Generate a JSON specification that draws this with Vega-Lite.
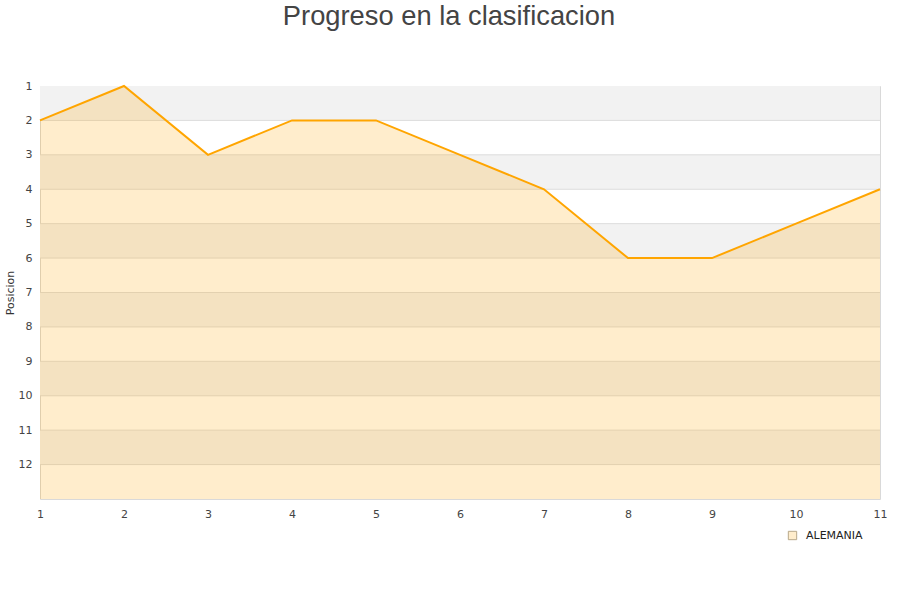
{
  "$schema": "https://vega.github.io/schema/vega-lite/v6.json",
  "width": 840,
  "height": 413,
  "autosize": {"type": "none"},
  "padding": {"left": 40, "top": 86, "right": 20, "bottom": 101},
  "background": "white",
  "title": {
    "text": "Progreso en la clasificacion",
    "font": "Liberation Sans",
    "fontSize": 27.3,
    "fontWeight": "normal",
    "color": "#444444",
    "anchor": "middle",
    "dx": -11,
    "offset": 50
  },
  "config": {
    "view": {"stroke": "#d9d9d9", "strokeWidth": 1},
    "axis": {
      "labelFont": "DejaVu Sans",
      "labelFontSize": 11,
      "labelColor": "#444444",
      "titleFont": "DejaVu Sans",
      "titleFontSize": 11,
      "titleFontWeight": "normal",
      "titleColor": "#333333",
      "domain": false,
      "ticks": false,
      "grid": false,
      "labelOverlap": false
    }
  },
  "datasets": {
    "bands": [
      {"b0": 1, "b1": 2}, {"b0": 3, "b1": 4}, {"b0": 5, "b1": 6},
      {"b0": 7, "b1": 8}, {"b0": 9, "b1": 10}, {"b0": 11, "b1": 12}
    ],
    "grid": [
      {"g": 2}, {"g": 3}, {"g": 4}, {"g": 5}, {"g": 6}, {"g": 7},
      {"g": 8}, {"g": 9}, {"g": 10}, {"g": 11}, {"g": 12}
    ],
    "prog": [
      {"jornada": 1, "pos": 2, "equipo": "ALEMANIA"},
      {"jornada": 2, "pos": 1, "equipo": "ALEMANIA"},
      {"jornada": 3, "pos": 3, "equipo": "ALEMANIA"},
      {"jornada": 4, "pos": 2, "equipo": "ALEMANIA"},
      {"jornada": 5, "pos": 2, "equipo": "ALEMANIA"},
      {"jornada": 6, "pos": 3, "equipo": "ALEMANIA"},
      {"jornada": 7, "pos": 4, "equipo": "ALEMANIA"},
      {"jornada": 8, "pos": 6, "equipo": "ALEMANIA"},
      {"jornada": 9, "pos": 6, "equipo": "ALEMANIA"},
      {"jornada": 10, "pos": 5, "equipo": "ALEMANIA"},
      {"jornada": 11, "pos": 4, "equipo": "ALEMANIA"}
    ]
  },
  "layer": [
    {
      "data": {"name": "bands"},
      "mark": {"type": "rect", "color": "#f2f2f2"},
      "encoding": {
        "y": {"field": "b0", "type": "quantitative", "scale": {"domain": [1, 13], "reverse": true, "zero": false, "nice": false},
              "axis": {"values": [1,2,3,4,5,6,7,8,9,10,11,12], "tickCount": 20, "format": "d", "title": "Posicion", "labelPadding": 8, "titlePadding": 3, "labelOverlap": false, "labelBound": false, "labelFlush": false}},
        "y2": {"field": "b1"}
      }
    },
    {
      "data": {"name": "grid"},
      "mark": {"type": "rule", "color": "#dcdcdc", "strokeWidth": 1},
      "encoding": {
        "y": {"field": "g", "type": "quantitative"}
      }
    },
    {
      "data": {"name": "prog"},
      "mark": {"type": "area", "color": "#ffa500", "fillOpacity": 0.2},
      "encoding": {
        "x": {"field": "jornada", "type": "quantitative", "scale": {"domain": [1, 11], "nice": false, "zero": false},
              "axis": {"values": [1,2,3,4,5,6,7,8,9,10,11], "tickCount": 20, "format": "d", "title": null, "labelPadding": 9, "labelFlush": false, "labelOverlap": false}},
        "y": {"field": "pos", "type": "quantitative"},
        "y2": {"datum": 13}
      }
    },
    {
      "data": {"name": "prog"},
      "mark": {"type": "line", "color": "#ffa500", "strokeWidth": 2},
      "encoding": {
        "x": {"field": "jornada", "type": "quantitative"},
        "y": {"field": "pos", "type": "quantitative"}
      }
    },
    {
      "data": {"name": "prog"},
      "mark": {"type": "point", "filled": true, "opacity": 0},
      "encoding": {
        "x": {"field": "jornada", "type": "quantitative"},
        "y": {"field": "pos", "type": "quantitative"},
        "color": {
          "field": "equipo", "type": "nominal",
          "scale": {"range": ["#ffedcc"]},
          "legend": {
            "title": null,
            "orient": "none",
            "legendX": 747,
            "legendY": 444,
            "padding": 0,
            "symbolType": "square",
            "symbolSize": 70,
            "symbolOpacity": 1,
            "symbolStrokeColor": "#b8a88a",
            "symbolStrokeWidth": 1,
            "labelFont": "DejaVu Sans",
            "labelFontSize": 11,
            "labelColor": "#222222",
            "labelOffset": 8
          }
        }
      }
    }
  ]
}
